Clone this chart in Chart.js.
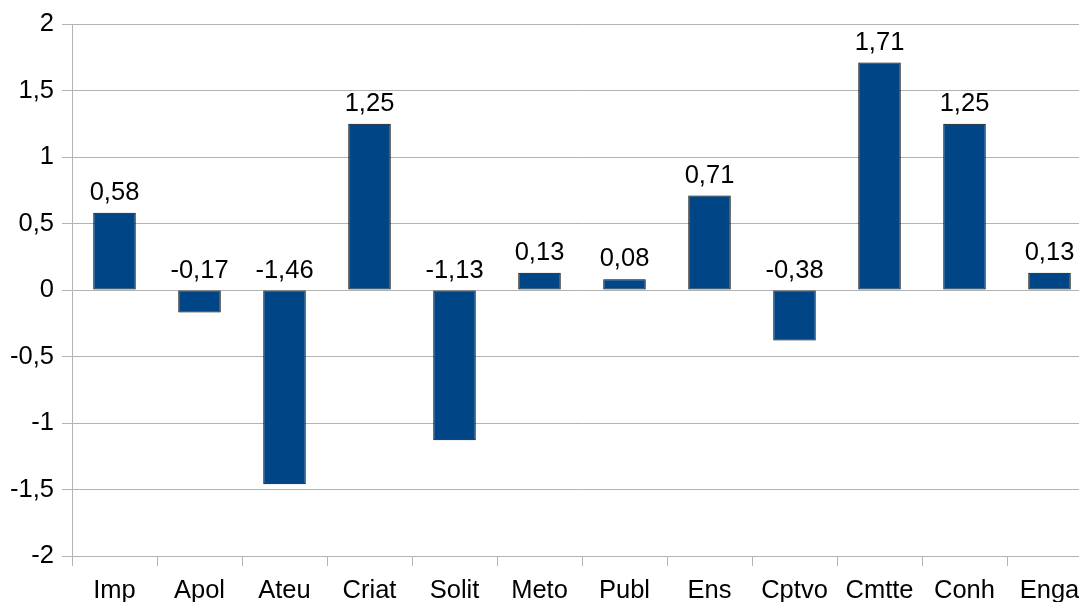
<!DOCTYPE html>
<html>
<head>
<meta charset="utf-8">
<script src="https://cdn.jsdelivr.net/npm/chart.js@4/dist/chart.umd.min.js"></script>
<style>
  html, body { margin: 0; padding: 0; background: #fff; overflow: hidden; }
  #wrap { width: 1100px; height: 620px; }
</style>
</head>
<body>
<div id="wrap"><canvas id="myChart" width="1100" height="620"></canvas></div>
<script>
// data
var categories = ['Imp', 'Apol', 'Ateu', 'Criat', 'Solit', 'Meto', 'Publ', 'Ens', 'Cptvo', 'Cmtte', 'Conh', 'Enga'];
var values = [0.58, -0.17, -1.46, 1.25, -1.13, 0.13, 0.08, 0.71, -0.38, 1.71, 1.25, 0.13];
var yTicks = [-2, -1.5, -1, -0.5, 0, 0.5, 1, 1.5, 2];

var FONT = '"Liberation Sans", Arial, sans-serif';

function comma(v) {
  return String(v).replace('.', ',');
}

// value labels above each bar (above the zero line for negatives)
var barLabels = {
  id: 'barLabels',
  afterDatasetsDraw: function (chart) {
    var ctx = chart.ctx;
    var meta = chart.getDatasetMeta(0);
    ctx.save();
    ctx.font = '25.5px ' + FONT;
    ctx.fillStyle = '#000';
    ctx.textAlign = 'center';
    ctx.textBaseline = 'alphabetic';
    meta.data.forEach(function (bar, i) {
      var top = Math.min(bar.y, bar.base);
      ctx.fillText(comma(values[i].toFixed(2)), bar.x, top - 13);
    });
    ctx.restore();
  }
};

var ctx = document.getElementById('myChart').getContext('2d');
var chart = new Chart(ctx, {
  type: 'bar',
  data: {
    labels: categories,
    datasets: [{
      data: values,
      backgroundColor: '#004586',
      borderColor: '#000',
      borderWidth: 1,
      borderSkipped: false,
      barPercentage: 0.5,
      categoryPercentage: 1
    }]
  },
  options: {
    responsive: false,
    animation: false,
    devicePixelRatio: 1,
    layout: { padding: { top: 24, right: 8, left: 0, bottom: 0 } },
    plugins: {
      legend: { display: false },
      tooltip: { enabled: false }
    },
    scales: {
      x: {
        grid: { drawOnChartArea: false, offset: true, color: '#b3b3b3', tickLength: 10 },
        border: { color: '#b3b3b3' },
        ticks: { color: '#000', font: { size: 25.5, family: FONT }, padding: 10, maxRotation: 0, autoSkip: false },
        afterFit: function (s) { s.height = 64; }
      },
      y: {
        min: -2,
        max: 2,
        afterBuildTicks: function (s) { s.ticks = yTicks.map(function (v) { return { value: v }; }); },
        grid: { color: '#b3b3b3', tickLength: 10 },
        border: { color: '#b3b3b3' },
        ticks: {
          color: '#000',
          padding: 8,
          font: { size: 25.5, family: FONT },
          callback: function (v) { return comma(v); }
        },
        afterFit: function (s) { s.width = 72; }
      }
    }
  },
  plugins: [barLabels]
});
</script>
</body>
</html>
